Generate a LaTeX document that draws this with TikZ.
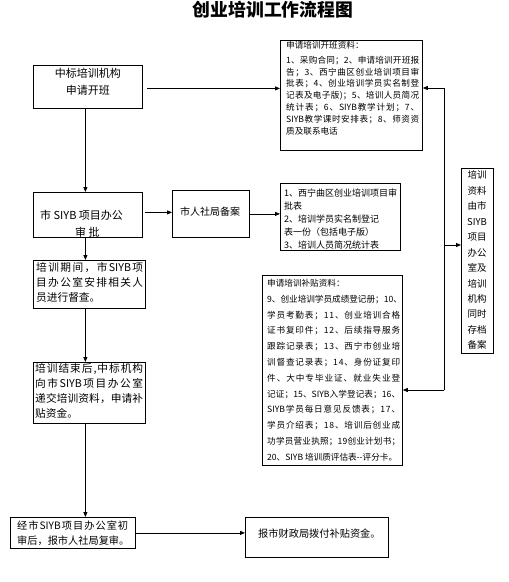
\documentclass[tikz,border=0pt]{standalone}
\usepackage{fontspec}
\setmainfont{Noto Sans CJK SC}
\usetikzlibrary{arrows.meta}
\ExplSyntaxOn
\NewDocumentCommand\jl{m m}{\hbox~to~#1{\tl_map_inline:nn{#2}{##1\hfil}\unskip}}
\ExplSyntaxOff
\begin{document}
\begin{tikzpicture}[x=1pt,y=-1pt,
  box/.style={draw,line width=0.8pt,inner sep=0pt,anchor=north west},
  arr/.style={line width=0.8pt,-{Triangle[length=5pt,width=4pt]}},
  ln/.style={line width=0.8pt},
  txt/.style={inner sep=0pt,anchor=north west,align=left},
  lbl/.style={inner sep=0pt,anchor=west}]
\useasboundingbox (0,0) rectangle (509,582);
\fill[white] (0,0) rectangle (509,582);

% title
\node[inner sep=0pt,font=\fontsize{17.8}{20}\selectfont\bfseries] (title) at (273,9.5) {创业培训工作流程图};

% boxes
\node[box,minimum width=109pt,minimum height=43pt] (A) at (33,65) {};
\node[box,minimum width=142pt,minimum height=110pt] (M1) at (280,40) {};
\node[box,minimum width=109pt,minimum height=45pt] (B) at (33,192) {};
\node[box,minimum width=77pt,minimum height=47pt] (C) at (172,190) {};
\node[box,minimum width=120pt,minimum height=67pt] (M1b) at (280,183) {};
\node[box,minimum width=112pt,minimum height=48pt] (D) at (33,260) {};
\node[box,minimum width=112pt,minimum height=61pt] (E) at (33,362) {};
\node[box,minimum width=140pt,minimum height=190pt] (M2) at (262,275) {};
\node[box,minimum width=32pt,minimum height=185pt] (V) at (461,168) {};
\node[box,minimum width=125pt,minimum height=31pt] (F) at (10,517) {};
\node[box,minimum width=143pt,minimum height=40pt] (G) at (245,517) {};

% texts
\node[inner sep=0pt,align=center,font=\fontsize{11}{17}\selectfont] (tA) at ([yshift=5pt]A.center) {中标培训机构\\申请开班};

\node[txt,font=\fontsize{8.6}{11.8}\selectfont] (tM1) at (286,41.1) {申请培训开班资料：\\[3pt]
\jl{133pt}{1、采购合同；2、申请培训开班报}\\
\jl{133pt}{告；3、西宁曲区创业培训项目审}\\
\jl{133pt}{批表；4、创业培训学员实名制登}\\
\jl{133pt}{记表及电子版)；5、培训人员简况}\\
\jl{133pt}{统计表；6、{SIYB}教学计划；7、}\\
\jl{133pt}{{SIYB}教学课时安排表；8、师资资}\\
质及联系电话};

\node[lbl,font=\fontsize{11}{13}\selectfont] (tB1) at (40,215) {市 SIYB 项目办公};
\node[lbl,font=\fontsize{11}{13}\selectfont] (tB2) at (75,232) {审 批};
\node[lbl,font=\fontsize{10}{12}\selectfont] (tC) at (180,212) {市人社局备案};

\node[txt,font=\fontsize{9}{13}\selectfont] (tM1b) at (284,189) {1、西宁曲区创业培训项目审\\批表\\2、培训学员实名制登记\\表一份（包括电子版）\\3、培训人员简况统计表};

\node[txt,font=\fontsize{10.7}{15}\selectfont] (tD) at (36,262.2) {\jl{107pt}{培训期间，市{SIYB}项}\\
\jl{107pt}{目办公室安排相关人}\\
员进行督查。};

\node[txt,font=\fontsize{10.7}{15}\selectfont] (tE) at (35,363.2) {\jl{108pt}{培训结束后,中标机构}\\
\jl{108pt}{向市{SIYB}项目办公室}\\
\jl{108pt}{递交培训资料，申请补}\\
贴资金。};

\node[txt,font=\fontsize{8.6}{15.8}\selectfont] (tM2) at (267,279.1) {申请培训补贴资料：\\
\jl{133pt}{9、创业培训学员成绩登记册；10、}\\
\jl{133pt}{学员考勤表；11、创业培训合格}\\
\jl{133pt}{证书复印件；12、后续指导服务}\\
\jl{133pt}{跟踪记录表；13、西宁市创业培}\\
\jl{133pt}{训督查记录表；14、身份证复印}\\
\jl{133pt}{件、大中专毕业证、就业失业登}\\
\jl{133pt}{记证；15、{SIYB}入学登记表；16、}\\
\jl{133pt}{{SIYB}学员每日意见反馈表；17、}\\
\jl{133pt}{学员介绍表；18、培训后创业成}\\
\jl{133pt}{功学员营业执照；{19}创业计划书；}\\
20、SIYB 培训质评估表-{}-评分卡。};

\node[inner sep=0pt,anchor=north,align=center,font=\fontsize{9.5}{15.45}\selectfont] (tV) at (477,170.7) {培训\\资料\\由市\\SIYB\\项目\\办公\\室及\\培训\\机构\\同时\\存档\\备案};

\node[txt,font=\fontsize{10.2}{15}\selectfont] (tF) at (17,520.4) {\jl{111pt}{经市{SIYB}项目办公室初}\\
\jl{111pt}{审后，报市人社局复审。}};

\node[lbl,font=\fontsize{10.2}{12}\selectfont] (tG) at (258,534) {报市财政局拨付补贴资金。};

% connectors
\draw[arr,shorten <=4pt] ([yshift=-1.5pt]A.east) -- ([yshift=-1.5pt]A.east -| M1.west);
\draw[arr] ([xshift=-2.5pt]A.south) -- ([xshift=-2.5pt]A.south |- B.north);
\draw[arr,shorten <=2pt] ([yshift=2.5pt]B.east) -- ([yshift=2.5pt]B.east -| C.west);
\draw[arr] (C.east) -- (C.east -| M1b.west);
\draw[arr] ([xshift=-2.5pt]B.south) -- ([xshift=-2.5pt]B.south |- D.north);
\draw[arr] ([xshift=-4pt]D.south) -- ([xshift=-4pt]D.south |- E.north);
\draw[arr] ([xshift=-4pt]E.south) -- ([xshift=-4pt]E.south |- F.north);
\draw[arr] (F.east) -- (F.east -| G.west);

\coordinate (b1) at (444,88);
\coordinate (bm) at (444,245);
\coordinate (b2) at (444,390);
\draw[ln] (b1) -- (b2);
\draw[arr] (b1) -- (b1 -| M1.east);
\draw[arr] (bm) -- (bm -| V.west);
\draw[arr] (b2) -- (b2 -| M2.east);
\end{tikzpicture}
\end{document}
